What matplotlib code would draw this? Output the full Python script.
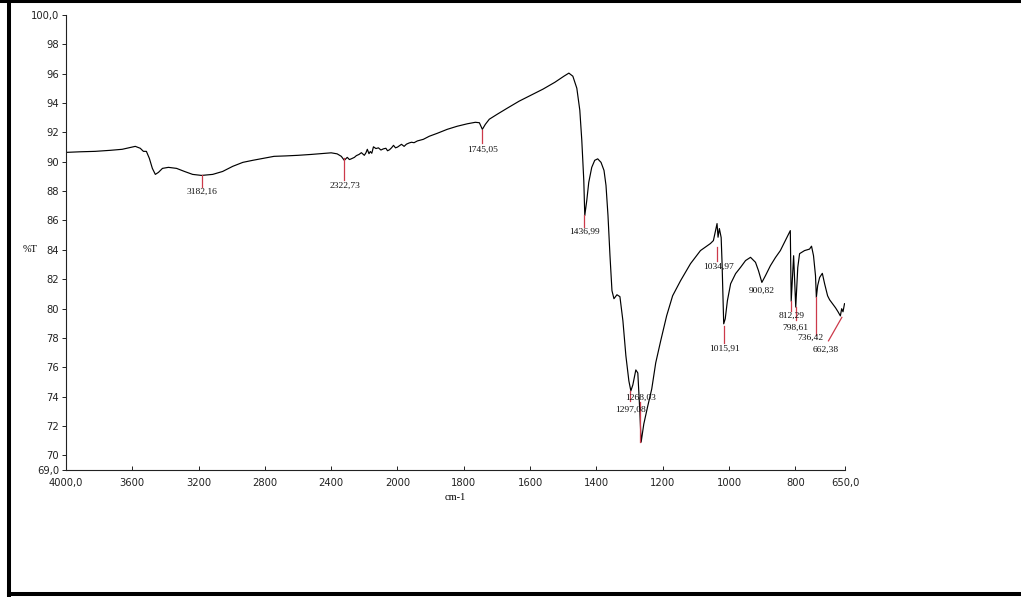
import numpy as np
import matplotlib
matplotlib.use("Agg")
import matplotlib.pyplot as plt
from matplotlib.lines import Line2D

# ---- spectrum (wavenumber in cm-1, transmittance in %T) ----
WAVENUMBER = [
    4000, 3915, 3824, 3733, 3661, 3582, 3552, 3533, 3515, 3497,
    3479, 3461, 3442, 3418, 3382, 3333, 3285, 3236, 3182, 3115,
    3055, 2994, 2933, 2873, 2812, 2745, 2673, 2600, 2521, 2448,
    2400, 2364, 2339, 2321, 2303, 2290, 2279, 2260, 2248, 2232,
    2218, 2200, 2190, 2182, 2172, 2164, 2155, 2145, 2130, 2115,
    2100, 2085, 2070, 2060, 2048, 2036, 2024, 2012, 2000, 1988,
    1980, 1973, 1965, 1958, 1950, 1940,
    1922, 1904, 1880, 1850, 1820, 1789, 1765, 1753, 1744,
    1735, 1723, 1699, 1669, 1633, 1597, 1561, 1525, 1498, 1483,
    1471, 1459, 1450, 1444, 1438, 1435, 1429, 1423, 1414, 1405,
    1396, 1386, 1377, 1371, 1365, 1359, 1353, 1347, 1338, 1329,
    1320, 1311, 1302, 1296, 1290, 1281, 1275, 1269, 1265, 1257,
    1245, 1233, 1221, 1206, 1188, 1170, 1146, 1116, 1086, 1056,
    1047, 1036, 1033, 1029, 1023.6, 1021, 1018, 1015.9, 1011.3, 1004.8,
    995, 980, 965, 950, 935, 920, 911, 900.8, 890, 875,
    860, 845, 825, 818, 815, 812.3, 805, 798.6, 792.5, 787,
    772, 757, 751, 745, 739, 736.4, 732.5, 726.5, 718.4, 711.5,
    702.5, 696.5, 687.5, 678.5, 671, 664, 660, 656, 651.5,
]
TRANSMITTANCE = [
    90.64, 90.68, 90.71, 90.78, 90.85, 91.05, 90.92, 90.71, 90.71, 90.23,
    89.55, 89.14, 89.28, 89.55, 89.62, 89.55, 89.34, 89.14, 89.07, 89.14,
    89.34, 89.69, 89.96, 90.10, 90.23, 90.37, 90.40, 90.44, 90.50, 90.57,
    90.61, 90.54, 90.37, 90.10, 90.30, 90.15, 90.20, 90.30, 90.42, 90.50,
    90.62, 90.44, 90.62, 90.85, 90.55, 90.70, 90.58, 91.02, 90.90, 90.95,
    90.80, 90.88, 90.92, 90.75, 90.82, 90.95, 91.12, 90.95, 91.00, 91.19,
    91.05, 91.20, 91.28, 91.33, 91.30, 91.42,
    91.53, 91.74, 91.94, 92.21, 92.42, 92.59, 92.69, 92.66, 92.21,
    92.55, 92.90, 93.24, 93.65, 94.13, 94.54, 94.95, 95.42, 95.83, 96.04,
    95.83, 95.01, 93.51, 91.46, 88.73, 86.34, 87.36, 88.60, 89.62, 90.10,
    90.20, 89.96, 89.41, 88.39, 86.34, 83.61, 81.22, 80.67, 80.94, 80.81,
    79.17, 76.78, 75.07, 74.39, 74.80, 75.82, 75.61, 73.02, 70.90, 72.13,
    73.36, 74.52, 76.30, 77.80, 79.51, 80.87, 81.90, 83.06, 83.95, 84.43,
    84.63, 85.79, 84.86, 85.45, 84.84, 83.20, 80.80, 78.96, 79.30, 80.53,
    81.69, 82.38, 82.81, 83.27, 83.49, 83.15, 82.58, 81.78, 82.24, 82.92,
    83.47, 83.95, 84.86, 85.18, 85.31, 80.50, 83.60, 80.10, 82.80, 83.74,
    83.95, 84.05, 84.25, 83.60, 82.24, 80.76, 81.56, 82.12, 82.40, 81.69,
    80.87, 80.60, 80.33, 80.05, 79.78, 79.50, 79.99, 79.78, 80.33,
]

# ---- picked peaks ----
PEAK_LABELS = ["3182,16", "2322,73", "1745,05", "1436,99", "1297,08", "1268,03",
               "1034,97", "1015,91", "900,82", "812,29", "798,61", "736,42", "662,38"]
# red marker: (w_start, T_start, w_end, T_end)
PEAK_MARKS = [
    (3182.2, 89.07, 3182.2, 88.27),
    (2322.7, 90.23, 2322.7, 88.73),
    (1745.1, 92.15, 1745.1, 91.26),
    (1437.0, 86.34, 1437.0, 85.59),
    (1297.1, 74.39, 1297.1, 73.70),
    (1268.0, 70.90, 1268.0, 73.60),
    (1035.0, 84.20, 1035.0, 83.27),
    (1015.9, 78.80, 1015.9, 77.66),
    None,
    (812.3, 80.50, 812.3, 79.85),
    (798.6, 80.10, 798.6, 79.20),
    (736.4, 80.76, 736.4, 78.20),
    (659.5, 79.40, 699.8, 77.80),
]
# label anchor (w, T)
PEAK_TEXT_POS = [
    (3178, 87.93), (2319, 88.39), (1743, 90.83), (1434.6, 85.20),
    (1296, 73.09), (1266, 73.91), (1031.6, 82.81), (1013.5, 77.25),
    (900, 81.22), (809.6, 79.51), (799.7, 78.71), (754.9, 78.03), (706.8, 77.19),
]

X_TICKS = [4000, 3600, 3200, 2800, 2400, 2000, 1800, 1600, 1400, 1200, 1000, 800, 650]
X_TICK_LABELS = ["4000,0", "3600", "3200", "2800", "2400", "2000", "1800",
                 "1600", "1400", "1200", "1000", "800", "650,0"]
Y_TICKS = [69, 70, 72, 74, 76, 78, 80, 82, 84, 86, 88, 90, 92, 94, 96, 98, 100]
Y_TICK_LABELS = ["69,0"] + [str(v) for v in range(70, 100, 2)] + ["100,0"]

RED = "#cc3a4a"


# wavenumber axis is compressed by half above 2000 cm-1
def fwd(w):
    w = np.asarray(w, dtype=float)
    return np.where(w > 2000, 2000 + (w - 2000) / 2.0, w)


def inv(p):
    p = np.asarray(p, dtype=float)
    return np.where(p > 2000, 2000 + (p - 2000) * 2.0, p)


fig = plt.figure(figsize=(10.21, 5.97), dpi=100)
ax = fig.add_axes([66 / 1021, 1 - 470 / 597, 779 / 1021, 455 / 597])

ax.set_xscale("function", functions=(fwd, inv))
ax.plot(WAVENUMBER, TRANSMITTANCE, color="black", linewidth=0.85)

for mark in PEAK_MARKS:
    if mark is None:
        continue
    w0, t0, w1, t1 = mark
    ax.plot([w0, w1], [t0, t1], color=RED, linewidth=0.9)

for label, (tw, tt) in zip(PEAK_LABELS, PEAK_TEXT_POS):
    ax.text(tw, tt, label, ha="center", va="center", fontsize=6.8,
            family="Liberation Serif", color="#111111")

ax.set_xlim(4000, 650)
ax.set_ylim(69, 100)
ax.set_xticks(X_TICKS)
ax.set_xticklabels(X_TICK_LABELS)
ax.set_yticks(Y_TICKS)
ax.set_yticklabels(Y_TICK_LABELS)
ax.xaxis.set_minor_locator(matplotlib.ticker.NullLocator())

for side in ("top", "right"):
    ax.spines[side].set_visible(False)
for side in ("left", "bottom"):
    ax.spines[side].set_linewidth(0.8)
    ax.spines[side].set_color("#222222")

ax.tick_params(axis="x", direction="in", length=3, width=0.7, pad=6,
               labelsize=7.2, colors="#222222")
ax.tick_params(axis="y", direction="out", length=3, width=0.7, pad=2,
               labelsize=7.2, colors="#222222")
for lbl in ax.get_xticklabels() + ax.get_yticklabels():
    lbl.set_family("DejaVu Sans")

fig.text(30 / 1021, 1 - 250 / 597, "%T", ha="center", va="center",
         fontsize=7.5, family="Liberation Serif")
fig.text(455 / 1021, 1 - 497 / 597, "cm-1", ha="center", va="center",
         fontsize=7.5, family="Liberation Serif")

# black frame around the page (no right edge)
fig.add_artist(Line2D([0, 1], [1 - 1 / 597, 1 - 1 / 597], transform=fig.transFigure,
                      color="black", linewidth=2.2))
fig.add_artist(Line2D([9 / 1021, 9 / 1021], [0, 1], transform=fig.transFigure,
                      color="black", linewidth=2.9))
fig.add_artist(Line2D([9 / 1021, 1], [1 - 594 / 597, 1 - 594 / 597], transform=fig.transFigure,
                      color="black", linewidth=2.9))

fig.savefig("out.png", dpi=100)
